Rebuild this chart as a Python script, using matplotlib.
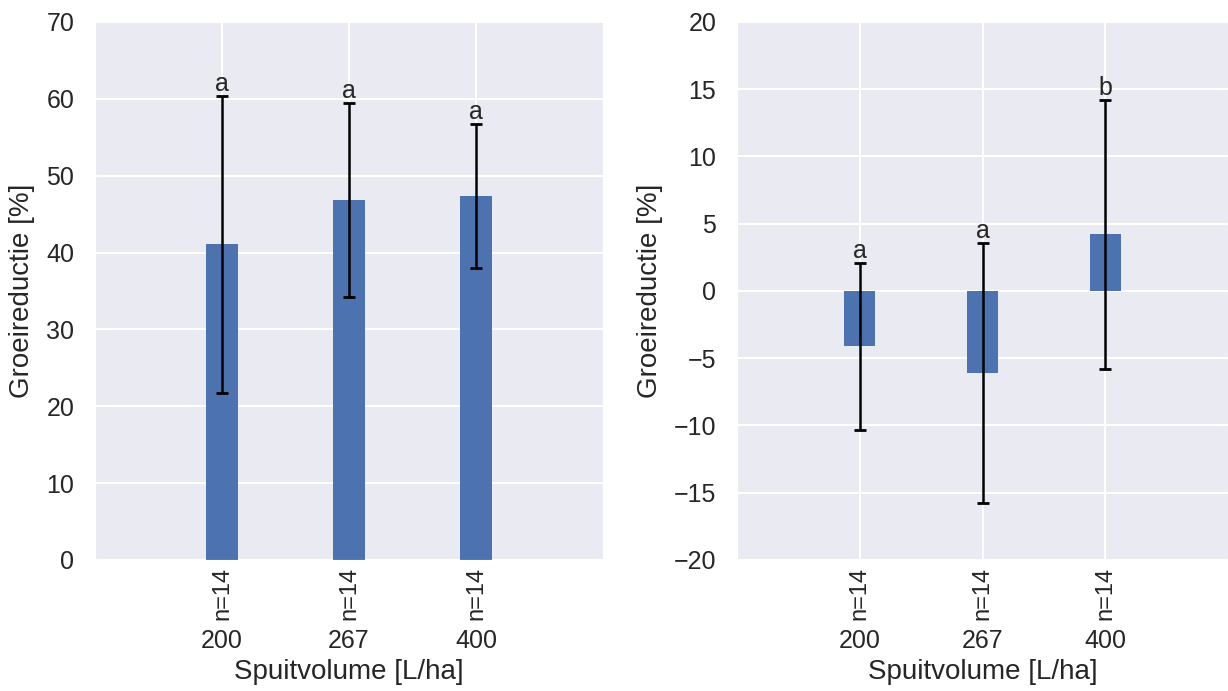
import matplotlib
matplotlib.use("Agg")
import matplotlib.pyplot as plt
import seaborn as sns
import numpy as np

categories = ["200", "267", "400"]
n_labels = ["n=14", "n=14", "n=14"]

left_means = [41.07, 46.84, 47.36]
left_err = [19.33, 12.62, 9.35]
left_letters = ["a", "a", "a"]

right_means = [-4.12, -6.10, 4.22]
right_err = [6.22, 9.64, 10.0]
right_letters = ["a", "a", "b"]

sns.set_style("darkgrid")
plt.rcParams['font.family'] = ['Liberation Sans', 'DejaVu Sans']

fig = plt.figure(figsize=(12.28, 6.91), dpi=100)
ax1 = fig.add_axes([0.0774, 0.1896, 0.4137, 0.7786])
ax2 = fig.add_axes([0.6002, 0.1896, 0.4000, 0.7786])

bar_color = "#4c72b0"
txt_color = "0.15"
fs = 18
nfs = 17
lfs = 20

def draw(ax, means, errs, letters, ylim, yticks):
    x = np.arange(len(categories))
    ax.bar(x, means, width=0.25, color=bar_color, linewidth=0, zorder=2)
    ax.errorbar(x, means, yerr=errs, fmt='none', ecolor='black',
                elinewidth=1.8, capsize=4, capthick=2, zorder=3)
    for xi, m, e, l in zip(x, means, errs, letters):
        ax.annotate(l, (xi, m + e), xytext=(0, 0), textcoords='offset points',
                    ha='center', va='bottom', fontsize=fs, color=txt_color)
    for xi, nl in zip(x, n_labels):
        ax.text(xi, -0.012, nl, transform=ax.get_xaxis_transform(), rotation=90,
                ha='center', va='top', fontsize=nfs, color=txt_color)
    ax.set_xlim(-1, 3)
    ax.set_ylim(*ylim)
    ax.set_yticks(yticks)
    ax.set_xticks(x)
    ax.set_xticklabels(categories)
    ax.tick_params(axis='x', pad=50, labelsize=fs, colors=txt_color, length=0)
    ax.tick_params(axis='y', pad=15, labelsize=fs, colors=txt_color, length=0)
    ax.set_xlabel("Spuitvolume [L/ha]", fontsize=lfs, color=txt_color, labelpad=4)
    ax.set_ylabel("Groeireductie [%]", fontsize=lfs, color=txt_color, labelpad=8)
    ax.grid(True, color='white', linewidth=1.5)

draw(ax1, left_means, left_err, left_letters, (0, 70), np.arange(0, 71, 10))
draw(ax2, right_means, right_err, right_letters, (-20, 20), np.arange(-20, 21, 5))
ax2.set_yticklabels(["\u221220", "\u221215", "\u221210", "\u22125", "0", "5", "10", "15", "20"])

fig.savefig("out.png", dpi=100)
